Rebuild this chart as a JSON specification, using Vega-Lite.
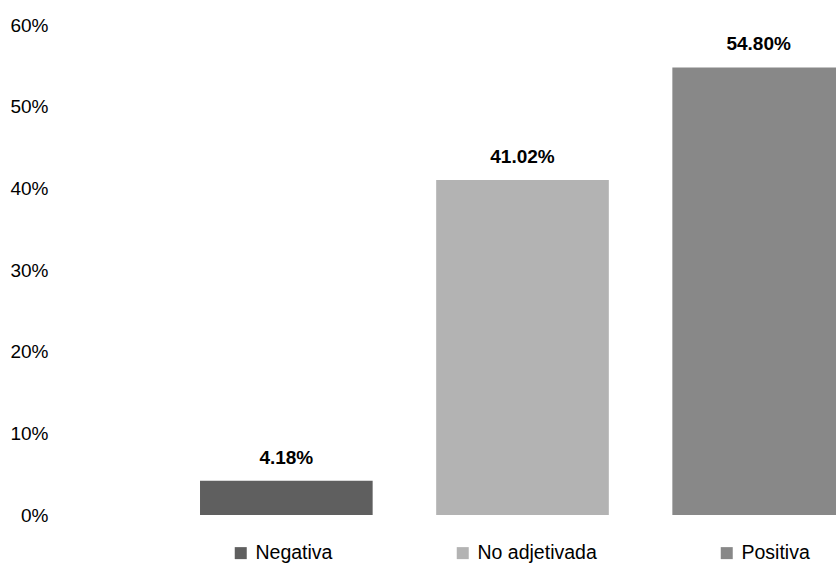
{
  "$schema": "https://vega.github.io/schema/vega-lite/v6.json",
  "autosize": {"type": "none"},
  "width": 781,
  "height": 490,
  "padding": {"left": 55, "top": 25, "right": 0, "bottom": 49},
  "background": "white",
  "config": {"view": {"stroke": null}},
  "data": {
    "values": [
      {"categoria": "Negativa", "valor": 0.0418},
      {"categoria": "No adjetivada", "valor": 0.4102},
      {"categoria": "Positiva", "valor": 0.548}
    ]
  },
  "encoding": {
    "x": {
      "field": "categoria",
      "type": "nominal",
      "sort": null,
      "axis": null,
      "scale": {"range": [0, 935], "paddingInner": 0.269, "paddingOuter": 0.614}
    },
    "y": {
      "field": "valor",
      "type": "quantitative",
      "scale": {"domain": [0, 0.6]},
      "axis": {
        "title": null,
        "format": ".0%",
        "values": [0, 0.1, 0.2, 0.3, 0.4, 0.5, 0.6],
        "grid": false,
        "domain": false,
        "ticks": false,
        "labelPadding": 7,
        "labelFont": "Liberation Sans",
        "labelFontSize": 19,
        "labelColor": "#000000"
      }
    }
  },
  "layer": [
    {
      "mark": {"type": "bar"},
      "encoding": {
        "color": {
          "field": "categoria",
          "type": "nominal",
          "sort": null,
          "scale": {"domain": ["Negativa", "No adjetivada", "Positiva"], "range": ["#5f5f5f", "#b3b3b3", "#888888"]},
          "legend": {
            "title": null,
            "orient": "none",
            "direction": "horizontal",
            "legendX": 176,
            "legendY": 518,
            "padding": 0,
            "symbolType": "square",
            "symbolSize": 144,
            "symbolStrokeWidth": 0,
            "labelOffset": 5,
            "columnPadding": 120,
            "labelFont": "Liberation Sans",
            "labelFontSize": 19.5,
            "labelColor": "#000000"
          }
        }
      }
    },
    {
      "mark": {"type": "text", "baseline": "alphabetic", "dy": -17, "font": "Liberation Sans", "fontSize": 19, "fontWeight": "bold", "color": "#000000"},
      "encoding": {
        "text": {"field": "valor", "type": "quantitative", "format": ".2%"}
      }
    }
  ]
}
